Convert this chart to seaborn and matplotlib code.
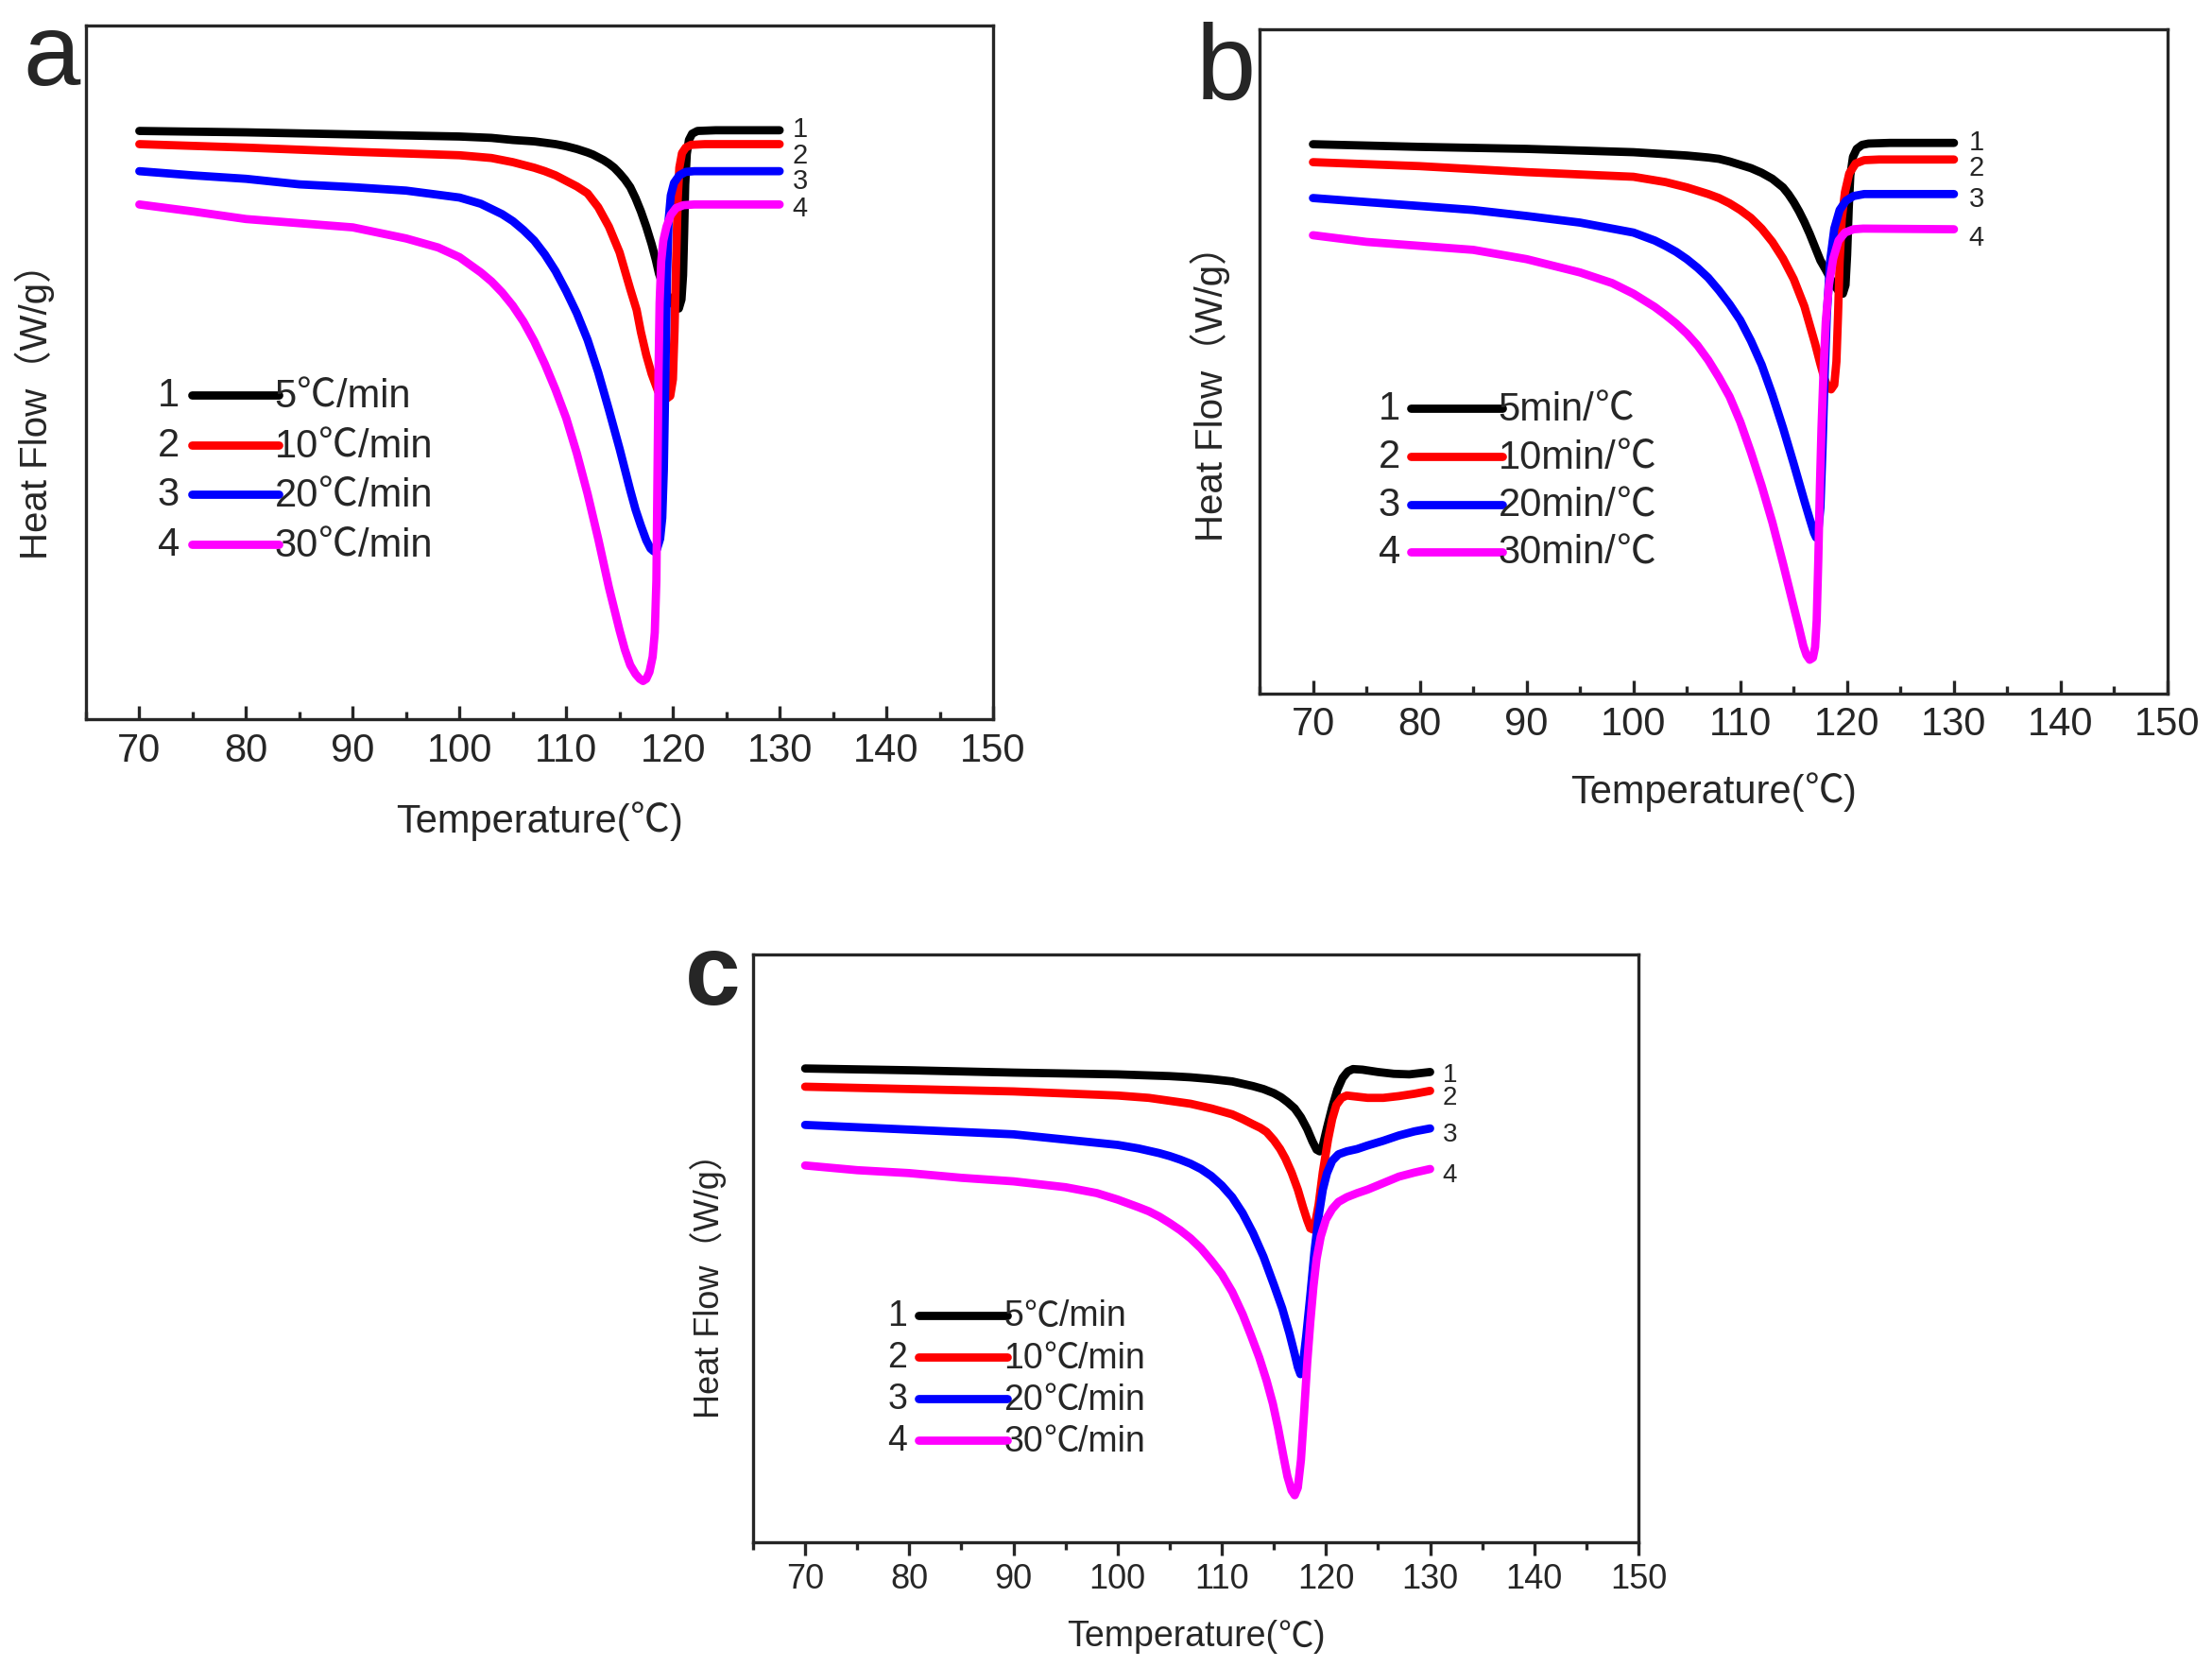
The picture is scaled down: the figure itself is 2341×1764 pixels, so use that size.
import pandas as pd
import seaborn as sns
import matplotlib.pyplot as plt
from matplotlib.ticker import MultipleLocator
from matplotlib.offsetbox import TextArea, HPacker, AnchoredOffsetbox

# heat flow, in % of the plot height (no y scale shown)
# ---- panel a ----
t_a1 = [70, 80, 90, 100, 103, 105, 107, 108, 109, 110, 111, 112, 112.5, 113, 113.5, 114, 114.5, 115,
        115.5, 116, 116.5, 117, 117.5, 118, 118.4, 118.7, 119.2, 119.7, 120.2, 120.55, 120.8, 120.95,
        121.05, 121.15, 121.3, 121.5, 121.8, 122.3, 124, 130]
hf_a1 = [84.8, 84.6, 84.3, 84.0, 83.8, 83.5, 83.3, 83.1, 82.9, 82.6, 82.2, 81.7, 81.4, 81.0, 80.6, 80.1,
         79.5, 78.7, 77.8, 76.7, 75.1, 73.2, 71.0, 68.5, 66.2, 64.2, 62.0, 60.5, 59.5, 59.2, 60.5, 64.0,
         70.0, 77.0, 81.5, 83.5, 84.4, 84.8, 84.9, 84.9]
t_a2 = [70, 80, 90, 100, 103, 105, 106, 107, 108, 109, 110, 111, 112, 113, 114, 115, 116, 116.6, 117,
        117.5, 118, 118.6, 119.0, 119.4, 119.75, 120.0, 120.15, 120.3, 120.45, 120.6, 120.85, 121.2,
        121.7, 123, 130]
hf_a2 = [82.9, 82.4, 81.8, 81.3, 80.9, 80.3, 79.9, 79.5, 79.0, 78.4, 77.6, 76.8, 75.8, 73.8, 71.0, 67.3,
         62.0, 59.0, 55.8, 52.5, 49.8, 47.3, 46.5, 46.2, 46.6, 49.0, 56.0, 66.0, 75.0, 79.5, 81.6, 82.4,
         82.8, 82.9, 82.9]
t_a3 = [70, 75, 80, 85, 90, 95, 100, 102, 104, 105, 106, 107, 108, 109, 110, 111, 112, 113, 114, 115,
        116, 116.5, 117, 117.5, 117.9, 118.2, 118.5, 118.8, 119.0, 119.15, 119.3, 119.45, 119.6, 119.8,
        120.1, 120.6, 121.2, 122, 130]
hf_a3 = [79.0, 78.4, 77.9, 77.1, 76.7, 76.2, 75.2, 74.3, 72.8, 71.8, 70.5, 69.0, 67.0, 64.6, 61.7, 58.5,
         54.7, 50.0, 44.6, 39.0, 33.0, 30.2, 27.9, 25.8, 24.6, 24.2, 24.5, 26.0, 29.0, 36.0, 50.0, 64.0,
         72.0, 75.5, 77.3, 78.4, 78.9, 79.0, 79.0]
t_a4 = [70, 75, 80, 85, 90, 95, 98, 100, 102, 103, 104, 105, 106, 107, 108, 109, 110, 111, 112, 113,
        114, 115, 115.5, 116, 116.5, 116.9, 117.2, 117.5, 117.8, 118.1, 118.3, 118.45, 118.55, 118.65,
        118.75, 118.9, 119.1, 119.4, 119.8, 120.3, 121, 122, 130]
hf_a4 = [74.2, 73.2, 72.1, 71.5, 70.9, 69.3, 68.0, 66.6, 64.4, 63.1, 61.5, 59.6, 57.3, 54.5, 51.2, 47.5,
         43.4, 38.3, 32.5, 26.0, 19.0, 12.8, 10.0, 7.8, 6.5, 5.8, 5.5, 5.8, 6.8, 9.0, 12.5, 20.0, 35.0,
         50.0, 60.0, 66.0, 69.0, 71.0, 72.7, 73.7, 74.1, 74.2, 74.2]

# ---- panel b ----
t_b1 = [70, 80, 90, 100, 103, 105, 107, 108, 109, 110, 111, 112, 113, 114, 114.5, 115, 115.5, 116,
        116.5, 117, 117.5, 118, 118.4, 118.8, 119.2, 119.6, 119.85, 120.0, 120.15, 120.3, 120.55,
        120.9, 121.4, 122, 124, 130]
hf_b1 = [82.7, 82.3, 82.0, 81.5, 81.2, 81.0, 80.7, 80.5, 80.1, 79.6, 79.1, 78.4, 77.5, 76.2, 75.2, 74.0,
         72.6, 71.0, 69.2, 67.2, 65.2, 63.8, 62.6, 61.5, 60.6, 60.2, 61.5, 66.0, 73.0, 78.0, 80.8, 82.0,
         82.6, 82.8, 82.9, 82.9]
t_b2 = [70, 80, 90, 100, 103, 105, 107, 108, 109, 110, 111, 112, 113, 114, 115, 116, 116.5, 117,
        117.5, 117.9, 118.2, 118.5, 118.8, 119.0, 119.15, 119.3, 119.5, 119.8, 120.2, 120.8, 121.6,
        123, 130]
hf_b2 = [80.0, 79.4, 78.5, 77.8, 77.0, 76.2, 75.2, 74.6, 73.8, 72.8, 71.6, 70.0, 68.0, 65.5, 62.4, 58.3,
         55.5, 52.7, 49.6, 47.3, 46.1, 45.8, 46.5, 50.0, 57.0, 65.0, 71.5, 75.5, 78.3, 79.8, 80.3, 80.4,
         80.4]
t_b3 = [70, 75, 80, 85, 90, 95, 100, 102, 103, 104, 105, 106, 107, 108, 109, 110, 111, 112, 113, 114,
        115, 115.5, 116, 116.5, 116.9, 117.1, 117.3, 117.5, 117.7, 117.9, 118.1, 118.4, 118.8, 119.3,
        119.9, 120.6, 121.6, 130]
hf_b3 = [74.6, 74.0, 73.4, 72.8, 71.9, 70.9, 69.4, 68.2, 67.4, 66.5, 65.4, 64.1, 62.6, 60.7, 58.6, 56.2,
         53.1, 49.5, 45.0, 40.0, 34.6, 31.8, 29.0, 26.3, 24.2, 23.5, 24.5, 28.0, 37.0, 48.0, 57.0, 65.0,
         70.0, 72.8, 74.2, 74.9, 75.2, 75.2]
t_b4 = [70, 75, 80, 85, 90, 95, 98, 100, 102, 103, 104, 105, 106, 107, 108, 109, 110, 111, 112, 113,
        114, 115, 115.5, 115.9, 116.2, 116.5, 116.8, 117.0, 117.15, 117.3, 117.45, 117.6, 117.8, 118.0,
        118.3, 118.7, 119.2, 119.8, 120.6, 121.5, 130]
hf_b4 = [69.0, 68.0, 67.4, 66.8, 65.4, 63.4, 61.8, 60.2, 58.2, 57.0, 55.7, 54.2, 52.4, 50.2, 47.6, 44.7,
         40.9, 36.3, 31.3, 25.8, 19.6, 13.1, 9.9, 7.2, 5.8, 5.1, 5.4, 7.0, 11.0, 20.0, 31.0, 40.0, 49.0,
         56.0, 61.5, 65.5, 68.2, 69.4, 69.9, 70.0, 69.9]

# ---- panel c ----
t_c1 = [70, 80, 90, 100, 105, 107, 109, 110, 111, 112, 113, 114, 115, 115.7, 116.3, 117, 117.6, 118.2,
        118.7, 119.1, 119.4, 119.7, 120.1, 120.6, 121.1, 121.6, 122.1, 122.6, 123.5, 125, 126.5, 128,
        129, 130]
hf_c1 = [80.6, 80.3, 79.9, 79.6, 79.3, 79.1, 78.8, 78.6, 78.4, 78.0, 77.6, 77.1, 76.4, 75.7, 74.9, 73.8,
         72.3, 70.3, 68.2, 66.8, 66.5, 67.5, 70.5, 74.0, 77.0, 79.0, 80.1, 80.5, 80.4, 80.0, 79.7, 79.6,
         79.8, 80.0]
t_c2 = [70, 80, 90, 100, 103, 105, 107, 109, 110, 111, 112, 113, 113.7, 114.3, 115, 115.6, 116.1, 116.7,
        117.3, 117.8, 118.2, 118.5, 118.75, 119.0, 119.3, 119.7, 120.2, 120.6, 121.0, 121.5, 122, 123,
        124, 125.5, 127, 128.5, 130]
hf_c2 = [77.5, 77.1, 76.7, 76.0, 75.6, 75.1, 74.6, 73.8, 73.3, 72.8, 72.0, 71.1, 70.5, 69.8, 68.4, 66.9,
         65.3, 62.9, 60.0, 57.0, 54.8, 53.4, 53.2, 54.6, 57.5, 63.0, 68.5, 72.0, 74.4, 75.6, 76.0, 75.8,
         75.6, 75.6, 75.9, 76.3, 76.8]
t_c3 = [70, 80, 90, 100, 102, 104, 105, 106, 107, 108, 109, 110, 111, 112, 113, 114, 115, 115.8, 116.5,
        117.0, 117.3, 117.55, 117.8, 118.1, 118.5, 118.9, 119.3, 119.7, 120.1, 120.6, 121.2, 122, 123,
        124, 125.5, 127, 128.5, 130]
hf_c3 = [71.0, 70.2, 69.4, 67.6, 67.0, 66.2, 65.7, 65.1, 64.4, 63.5, 62.3, 60.7, 58.7, 56.0, 52.6, 48.6,
         43.8, 39.8, 35.5, 32.0, 29.8, 28.6, 30.5, 35.0, 42.0, 49.5, 55.5, 60.0, 62.8, 64.9, 66.0, 66.5,
         66.9, 67.5, 68.3, 69.2, 69.9, 70.4]
t_c4 = [70, 75, 80, 85, 90, 95, 98, 100, 102, 103, 104, 105, 106, 107, 108, 109, 110, 111, 112, 112.8,
        113.6, 114.3, 114.9, 115.4, 115.9, 116.3, 116.7, 117.0, 117.3, 117.6, 117.9, 118.2, 118.5, 118.8,
        119.1, 119.5, 120.0, 120.6, 121.2, 122, 123, 124, 125.5, 127, 128.5, 130]
hf_c4 = [64.1, 63.3, 62.8, 62.0, 61.4, 60.4, 59.4, 58.3, 57.0, 56.3, 55.4, 54.3, 53.1, 51.7, 50.0, 47.9,
         45.6, 42.6, 38.8, 35.2, 31.4, 27.5, 23.6, 19.5, 14.8, 11.2, 8.8, 8.0, 9.3, 14.0, 22.0, 30.5,
         37.5, 43.5, 48.2, 52.0, 54.9, 56.7, 57.9, 58.7, 59.4, 60.0, 61.1, 62.2, 62.9, 63.5]

curve_ids = ['1', '2', '3', '4']
rates_a = ['5℃/min', '10℃/min', '20℃/min', '30℃/min']
rates_b = ['5min/℃', '10min/℃', '20min/℃', '30min/℃']
rates_c = ['5℃/min', '10℃/min', '20℃/min', '30℃/min']
colors = ['#000000', '#ff0000', '#0000ff', '#ff00ff']

sns.set_style('ticks')
plt.rcParams['font.family'] = ['Liberation Sans Narrow', 'Liberation Sans', 'Noto Sans CJK SC', 'DejaVu Sans']
plt.rcParams['axes.linewidth'] = 2.4
wide_font = ['Liberation Sans', 'Noto Sans CJK SC', 'DejaVu Sans']
cjk_font = ['Noto Sans CJK SC', 'DejaVu Sans']
LW = 6.3

fig = plt.figure(figsize=(23.41, 17.65), dpi=100)


def mixed_text(ax, xy, s, fs, loc):
    # the ℃ sign is taken from the CJK font (wide glyph, as in the original)
    parts = []
    for i, piece in enumerate(s.split('℃')):
        if i > 0:
            parts.append(TextArea('℃', textprops=dict(fontsize=fs, family=cjk_font)))
        if piece:
            parts.append(TextArea(piece, textprops=dict(fontsize=fs)))
    box = HPacker(children=parts, align='baseline', pad=0, sep=0)
    ab = AnchoredOffsetbox(loc=loc, child=box, pad=0, borderpad=0, frameon=False,
                           bbox_to_anchor=xy, bbox_transform=ax.transAxes)
    ax.add_artist(ab)


def draw_panel(rect, curves, rates, end_x, end_y, leg, fs, tickdir, ylab_pos, xlab_y):
    ax = fig.add_axes(rect)
    rows = []
    for cid, (t, hf) in zip(curve_ids, curves):
        rows += [(x, y, cid) for x, y in zip(t, hf)]
    df = pd.DataFrame(rows, columns=['T', 'HF', 'curve'])
    sns.lineplot(data=df, x='T', y='HF', hue='curve', palette=dict(zip(curve_ids, colors)),
                 sort=False, estimator=None, lw=LW, legend=False, ax=ax,
                 solid_capstyle='round', solid_joinstyle='round')
    ax.set_xlim(65, 150)
    ax.set_ylim(0, 100)
    ax.xaxis.set_major_locator(MultipleLocator(10))
    ax.xaxis.set_minor_locator(MultipleLocator(5))
    ax.set_yticks([])
    pad = 9 if tickdir == 'in' else 5
    ax.tick_params(axis='x', which='major', direction=tickdir, length=10, width=2.4,
                   labelsize=fs['tick'], pad=pad)
    ax.tick_params(axis='x', which='minor', direction=tickdir, length=5.5, width=2.4)
    for s in ax.spines.values():
        s.set_visible(True)
        s.set_linewidth(2.4)

    ax.set_xlabel('')
    mixed_text(ax, (0.5, xlab_y), 'Temperature(℃)', fs['xlab'], 'center')
    ax.set_ylabel('Heat Flow（W/g）', fontsize=fs['ylab'], family=wide_font)
    ax.yaxis.label.set_va('center')
    ax.yaxis.set_label_coords(*ylab_pos)

    # curve numbers at the right end
    for cid, y in zip(curve_ids, end_y):
        ax.text(end_x, y, cid, fontsize=fs['end'], va='center', ha='left', family=wide_font)

    # hand-drawn legend: number, line, rate
    num_x, x0, x1, ys = leg
    for cid, rate, c, y in zip(curve_ids, rates, colors, ys):
        ax.text(num_x, y, cid, transform=ax.transAxes, ha='right', va='center', fontsize=fs['leg'])
        ax.plot([x0, x1], [y, y], transform=ax.transAxes, color=c, lw=LW, solid_capstyle='round')
        mixed_text(ax, (x1 - 0.004, y), rate, fs['leg'], 'center left')
    return ax


fs_ab = {'tick': 30, 'xlab': 30, 'ylab': 29, 'leg': 30, 'end': 21}
fs_c = {'tick': 26, 'xlab': 27, 'ylab': 26, 'leg': 27, 'end': 20}

draw_panel([0.03887, 0.56827, 0.41008, 0.41586],
           [(t_a1, hf_a1), (t_a2, hf_a2), (t_a3, hf_a3), (t_a4, hf_a4)], rates_a,
           131.2, [85.1, 81.4, 77.7, 73.7],
           (0.103, 0.117, 0.212, [0.467, 0.395, 0.324, 0.252]),
           fs_ab, 'in', (-0.056, 0.459), -0.146)
draw_panel([0.56942, 0.58357, 0.41051, 0.39830],
           [(t_b1, hf_b1), (t_b2, hf_b2), (t_b3, hf_b3), (t_b4, hf_b4)], rates_b,
           131.4, [83.1, 79.3, 74.5, 68.7],
           (0.155, 0.166, 0.267, [0.429, 0.357, 0.285, 0.214]),
           fs_ab, 'in', (-0.054, 0.468), -0.147)
draw_panel([0.34045, 0.07479, 0.40025, 0.35241],
           [(t_c1, hf_c1), (t_c2, hf_c2), (t_c3, hf_c3), (t_c4, hf_c4)], rates_c,
           131.2, [79.6, 75.7, 69.5, 62.5],
           (0.174, 0.187, 0.287, [0.386, 0.315, 0.244, 0.173]),
           fs_c, 'out', (-0.051, 0.453), -0.159)

fig.text(24 / 2341, 1 - 90 / 1765, 'a', fontsize=78, ha='left', va='baseline', family=wide_font)
fig.text(1266 / 2341, 1 - 105 / 1765, 'b', fontsize=82, ha='left', va='baseline', family=wide_font)
fig.text(725 / 2341, 1 - 1063 / 1765, 'c', fontsize=76, ha='left', va='baseline',
         family=wide_font, fontweight='bold')

fig.savefig('out.png', dpi=100)
